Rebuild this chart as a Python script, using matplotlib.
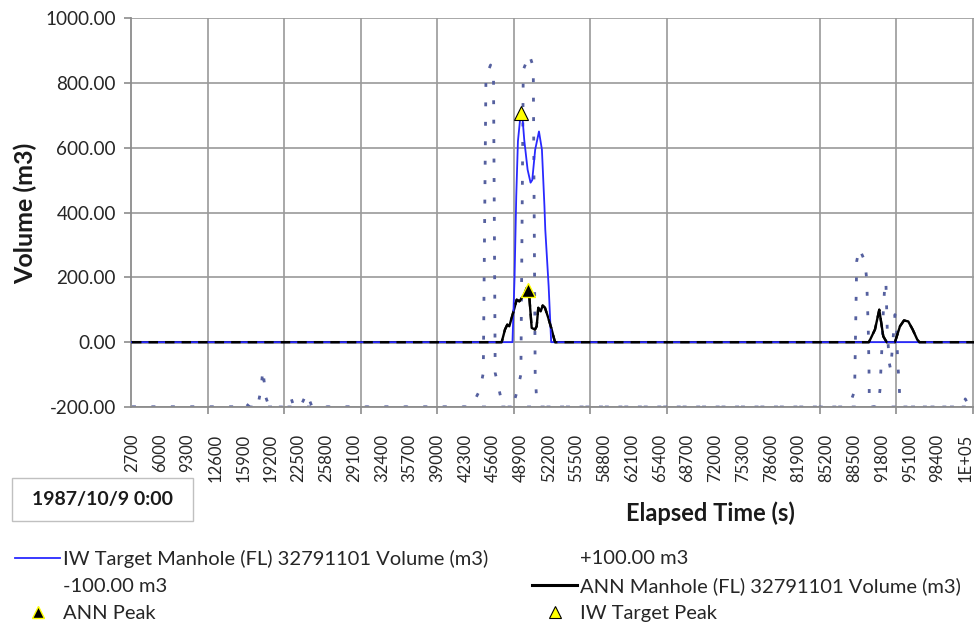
import numpy as np
import matplotlib.pyplot as plt
from matplotlib.lines import Line2D
from matplotlib.patches import Rectangle

plt.rcParams['font.family'] = ['Lato', 'DejaVu Sans']

# IW Target Manhole (FL) 32791101 Volume (m3)
iw_t = [2700, 47900, 48150, 48350, 48550, 48900, 49100, 49300, 49700, 50050, 50250,
        50600, 51050, 51400, 51700, 51800, 52200, 52500, 104040]
iw_v = [0, 0, 200, 450, 620, 712, 690, 624, 532, 492, 500,
        594, 650, 594, 419, 347, 172, 0, 0]

# ANN Manhole (FL) 32791101 Volume (m3)
ann_t = [2700, 46620, 47012, 47285, 47523, 47808, 48082, 48403, 48712, 48997, 49306,
         49591, 49900, 50185, 50576, 50778, 50968, 51253, 51491, 51764, 52156, 52560,
         52952, 90250, 90968, 91479, 91954, 92358, 93344, 93938, 94414, 94924, 95447,
         95994, 96231, 104040]
ann_v = [0, 0, 39, 54, 49, 75, 100, 131, 126, 136, 147,
         167, 141, 44, 39, 49, 106, 95, 113, 106, 75, 39,
         0, 0, 39, 100, 18, 0, 0, 49, 67, 64, 39,
         8, 0, 0]

# +100.00 m3
plus_t = [2700, 15500, 16124, 16700, 17600, 18000, 18250, 18600, 19000, 21100, 21589,
          21950, 22700, 23454, 24100, 42500, 43247, 44042, 44434, 44750, 45300, 45650,
          45850, 46216, 46620, 47000, 87500, 88000, 88550, 88800, 89105, 89782, 89984,
          90174, 90256, 90300, 90500, 101300, 101700, 102200, 104040]
plus_v = [-200, -200, -187, -200, -200, -150, -85, -170, -200, -200, -172,
          -200, -200, -157, -200, -200, -187, -147, -95, 820, 855, 810,
          -95, -136, -183, -200, -200, -190, -150, 250, 289, 249, 193,
          39, -75, -187, -200, -200, -175, -200, -200]

# -100.00 m3
minus_t = [2700, 47500, 47997, 48400, 48900, 49184, 49896, 50371, 50600, 50775, 51100,
           90800, 91361, 91562, 91764, 91954, 92156, 92275, 92429, 92667, 92833, 93344,
           93546, 93665, 93819, 93938, 94300, 104040]
minus_v = [-200, -200, -193, -156, -100, 840, 887, 850, -100, -177, -200,
           -200, -193, -147, -33, 90, 188, 177, 39, -64, -85, 85,
           39, -64, -116, -187, -200, -200]

# peaks
ann_peak_t = [49710]
ann_peak_v = [162]
iw_peak_t = [48950]
iw_peak_v = [708]

x_ticks = list(range(2700, 101701, 3300))
x_labels = [str(t) for t in x_ticks[:-1]] + ['1E+05']
y_ticks = [-200, 0, 200, 400, 600, 800, 1000]

fig = plt.figure(figsize=(9.74, 6.3), dpi=100)
ax = fig.add_axes([131 / 974, 1 - 407 / 630, 854 / 974, 389 / 630])

dot_col = '#55609f'
ax.plot(plus_t, plus_v, color=dot_col, lw=2.0, linestyle=(0, (1.4, 5.6)), zorder=2)
ax.plot(minus_t, minus_v, color=dot_col, lw=2.0, linestyle=(0, (1.4, 5.6)), zorder=2)
ax.plot(ann_t, ann_v, color='black', lw=1.7, zorder=3)
ax.plot(iw_t, iw_v, color='#2929ff', lw=1.3, zorder=4)
ax.plot(ann_t, ann_v, color='black', lw=1.7, linestyle=(0, (4, 3)), zorder=5)
ax.plot(ann_peak_t, ann_peak_v, linestyle='none', marker='^', ms=10,
        mfc='black', mec='#ffff00', mew=1.0, zorder=6)
ax.plot(iw_peak_t, iw_peak_v, linestyle='none', marker='^', ms=10,
        mfc='#ffff00', mec='black', mew=0.8, zorder=6)

ax.set_xlim(2581, 104040)
ax.set_ylim(-200, 1000)
ax.set_xticks(x_ticks)
ax.set_xticklabels(x_labels, rotation=90, fontsize=12, color='#262626')
ax.set_xticks(np.arange(2581 + 9090, 104040, 9090), minor=True)
ax.set_yticks(y_ticks)
ax.set_yticklabels(['%.2f' % v for v in y_ticks], fontsize=13.6, color='#262626')
ax.tick_params(axis='x', which='major', length=0, pad=19)
ax.tick_params(axis='x', which='minor', length=5, color='#8c8c8c', width=1.2)
ax.tick_params(axis='y', length=5, color='#8c8c8c', width=1.2, pad=6)

ax.grid(axis='y', color='#9a9a9a', lw=1.2)
ax.grid(axis='x', which='minor', color='#9a9a9a', lw=1.2)
ax.set_axisbelow(True)
for s in ['top', 'right']:
    ax.spines[s].set_visible(False)
for s in ['left', 'bottom']:
    ax.spines[s].set_color('#8c8c8c')
    ax.spines[s].set_linewidth(1.3)

fig.text(25 / 974, 1 - 213 / 630, 'Volume (m3)', rotation=90, ha='center', va='center',
         fontsize=18, fontweight='bold', color='#1a1a1a')
fig.text(710 / 974, 1 - 513 / 630, 'Elapsed Time (s)', ha='center', va='center',
         fontsize=17, fontweight='bold', color='#1a1a1a')

fig.patches.append(Rectangle((12 / 974, 1 - 521 / 630), 181 / 974, 43 / 630,
                             transform=fig.transFigure, fc='white', ec='#c0c0c0', lw=1))
fig.text(102 / 974, 1 - 499 / 630, '1987/10/9 0:00', ha='center', va='center',
         fontsize=14, fontweight='bold', color='#1a1a1a')

# legend, two columns
blank = Line2D([], [], linestyle='none')
h_iw = Line2D([], [], color='#2929ff', lw=1.3)
h_ann = Line2D([], [], color='black', lw=2.2)
h_annpk = Line2D([], [], linestyle='none', marker='^', ms=9, mfc='black', mec='#ffff00', mew=1.0)
h_iwpk = Line2D([], [], linestyle='none', marker='^', ms=9, mfc='#ffff00', mec='black', mew=0.8)

leg_kw = dict(loc='upper left', frameon=False, fontsize=14.5, borderaxespad=0, borderpad=0,
              handlelength=2.25, handletextpad=0.15, labelspacing=0.5, labelcolor='#262626')
fig.legend([h_iw, blank, h_annpk],
           ['IW Target Manhole (FL) 32791101 Volume (m3)', '-100.00 m3', 'ANN Peak'],
           bbox_to_anchor=(15 / 974, 1 - 550 / 630), **leg_kw)
fig.legend([blank, h_ann, h_iwpk],
           ['+100.00 m3', 'ANN Manhole (FL) 32791101 Volume (m3)', 'IW Target Peak'],
           bbox_to_anchor=(532 / 974, 1 - 550 / 630), **leg_kw)

fig.savefig('out.png', dpi=100)
